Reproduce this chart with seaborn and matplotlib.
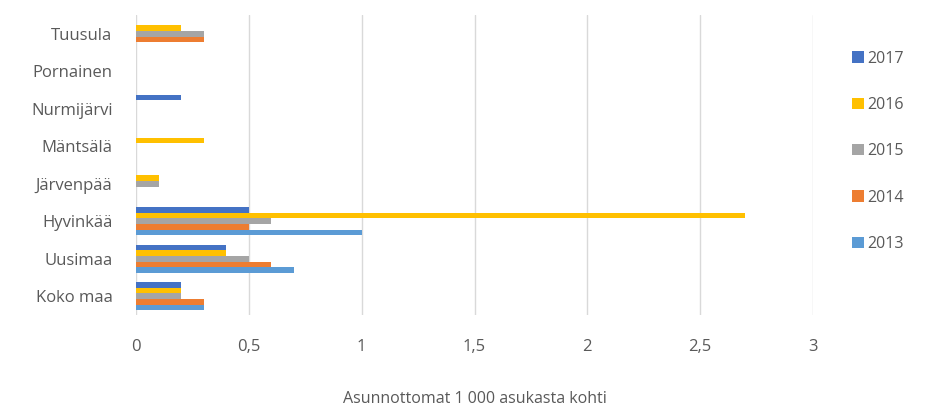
import pandas as pd
import numpy as np
import matplotlib
matplotlib.use("Agg")
import matplotlib.pyplot as plt
import seaborn as sns
from matplotlib.patches import Patch

# Data
kunnat = ["Tuusula", "Pornainen", "Nurmijärvi", "Mäntsälä", "Järvenpää",
          "Hyvinkää", "Uusimaa", "Koko maa"]
vuodet = ["2017", "2016", "2015", "2014", "2013"]
v2017 = [0.0, 0.0, 0.2, 0.0, 0.0, 0.5, 0.4, 0.2]
v2016 = [0.2, 0.0, 0.0, 0.3, 0.1, 2.7, 0.4, 0.2]
v2015 = [0.3, 0.0, 0.0, 0.0, 0.1, 0.6, 0.5, 0.2]
v2014 = [0.3, 0.0, 0.0, 0.0, 0.0, 0.5, 0.6, 0.3]
v2013 = [0.0, 0.0, 0.0, 0.0, 0.0, 1.0, 0.7, 0.3]
tick_labels = ["0", "0,5", "1", "1,5", "2", "2,5", "3"]

df = pd.DataFrame({
    "kunta": kunnat * 5,
    "vuosi": sum([[v] * len(kunnat) for v in vuodet], []),
    "arvo": v2017 + v2016 + v2015 + v2014 + v2013,
})

colors = {"2017": "#4472C4", "2016": "#FFC000", "2015": "#A5A5A5",
          "2014": "#ED7D31", "2013": "#5B9BD5"}

sns.set_style("white")
plt.rcParams['font.family'] = ['Open Sans', 'DejaVu Sans']
text_col = "#595959"

fig = plt.figure(figsize=(9.28, 4.11), dpi=100)
ax = fig.add_axes([0.1466, 0.2336, 0.7295, 0.7299])

sns.barplot(data=df, y="kunta", x="arvo", hue="vuosi", order=kunnat,
            hue_order=vuodet, palette=colors, orient="h", width=0.74,
            gap=0, errorbar=None, saturation=1, linewidth=0,
            ax=ax, legend=False)

ax.set_xlim(0, 3)
ax.set_ylim(7.5, -0.5)
ax.set_xticks(np.arange(0, 3.01, 0.5))
ax.set_xticklabels(tick_labels)
ax.grid(True, axis="x", color="#D9D9D9", linewidth=1)
ax.set_axisbelow(True)
for s in ax.spines.values():
    s.set_visible(False)
ax.tick_params(axis="both", length=0, labelsize=12, labelcolor=text_col)
ax.tick_params(axis="y", pad=17)
ax.tick_params(axis="x", pad=17)
ax.set_ylabel("")
ax.set_xlabel("Asunnottomat 1 000 asukasta kohti", fontsize=11.5,
              color=text_col, labelpad=26)

# legend
handles = [Patch(facecolor=colors[v], edgecolor="none") for v in vuodet]
fig.legend(handles, vuodet, loc="upper left", bbox_to_anchor=(0.903, 0.912),
           frameon=False, handlelength=0.7, handleheight=0.7,
           handletextpad=0.25, labelspacing=1.9, fontsize=11.5,
           labelcolor=text_col)

fig.savefig("out.png", dpi=100, facecolor="white")
